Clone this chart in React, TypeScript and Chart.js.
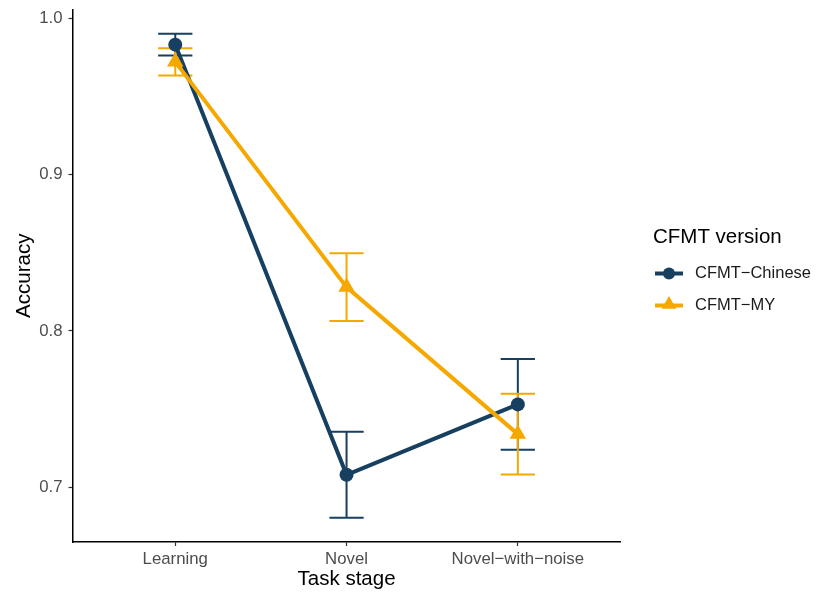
import React, { useEffect, useRef } from "react";
import { Chart, registerables } from "chart.js";
Chart.register(...registerables);

const categories = ["Learning", "Novel", "Novel\u2212with\u2212noise"];
const seriesNames = ["CFMT\u2212Chinese", "CFMT\u2212MY"];
const chineseMean = [0.983, 0.708, 0.753];
const chineseSE = [0.007, 0.0275, 0.029];
const myMean = [0.972, 0.828, 0.734];
const mySE = [0.0087, 0.0217, 0.0258];
const yTicks = [0.7, 0.8, 0.9, 1.0];
const legendTitle = "CFMT version";
const xTitle = "Task stage";
const yTitle = "Accuracy";

const COLORS = ["#173F5F", "#F5A800"];
const POINT_STYLES = ["circle", "triangle"];
const POINT_RADII = [7, 9.5];
const LEGEND_RADII = [6, 8.5];
const FONT = "'Liberation Sans', Arial, Helvetica, sans-serif";

const means = [chineseMean, myMean];
const ses = [chineseSE, mySE];

function drawMarker(ctx: CanvasRenderingContext2D, style: string, x: number, y: number, r: number) {
  ctx.beginPath();
  if (style === "circle") {
    ctx.arc(x, y, r, 0, Math.PI * 2);
  } else {
    ctx.moveTo(x, y - r);
    ctx.lineTo(x + r * Math.sin((2 * Math.PI) / 3), y - r * Math.cos((2 * Math.PI) / 3));
    ctx.lineTo(x + r * Math.sin((4 * Math.PI) / 3), y - r * Math.cos((4 * Math.PI) / 3));
    ctx.closePath();
  }
  ctx.fill();
}

export default function App() {
  const ref = useRef<HTMLCanvasElement | null>(null);

  useEffect(() => {
    const canvas = ref.current;
    if (!canvas) return;

    const lows: number[] = [];
    const highs: number[] = [];
    means.forEach((m, s) =>
      m.forEach((v, i) => {
        lows.push(v - ses[s][i]);
        highs.push(v + ses[s][i]);
      })
    );
    const lo = Math.min(...lows);
    const hi = Math.max(...highs);
    const pad = (hi - lo) * 0.05;

    const errorBars = {
      id: "errorBars",
      beforeDatasetsDraw(chart: any) {
        const { ctx, scales } = chart;
        const xs = scales.x;
        const ys = scales.y;
        ctx.save();
        means.forEach((m, s) => {
          ctx.strokeStyle = COLORS[s];
          ctx.lineWidth = 2;
          m.forEach((v, i) => {
            const xc = xs.getPixelForValue(i + 1);
            const x0 = xs.getPixelForValue(i + 1 - 0.1);
            const x1 = xs.getPixelForValue(i + 1 + 0.1);
            const yt = ys.getPixelForValue(v + ses[s][i]);
            const yb = ys.getPixelForValue(v - ses[s][i]);
            ctx.beginPath();
            ctx.moveTo(x0, yt);
            ctx.lineTo(x1, yt);
            ctx.moveTo(xc, yt);
            ctx.lineTo(xc, yb);
            ctx.moveTo(x0, yb);
            ctx.lineTo(x1, yb);
            ctx.stroke();
          });
        });
        ctx.restore();
      },
    };

    const legendPlugin = {
      id: "customLegend",
      afterDraw(chart: any) {
        const { ctx } = chart;
        ctx.save();
        ctx.fillStyle = "#000";
        ctx.font = `20.5px ${FONT}`;
        ctx.textBaseline = "middle";
        ctx.textAlign = "left";
        ctx.fillText(legendTitle, 653, 237);
        seriesNames.forEach((name, s) => {
          const y = 273.5 + s * 32;
          ctx.strokeStyle = COLORS[s];
          ctx.lineWidth = 4;
          ctx.beginPath();
          ctx.moveTo(655, y);
          ctx.lineTo(683, y);
          ctx.stroke();
          ctx.fillStyle = COLORS[s];
          drawMarker(ctx, POINT_STYLES[s], 669, s === 1 ? y - 1 : y, LEGEND_RADII[s]);
          ctx.fillStyle = "#1a1a1a";
          ctx.font = `16.5px ${FONT}`;
          ctx.fillText(name, 695, y);
        });
        ctx.restore();
      },
    };

    const chart = new Chart(canvas, {
      type: "line",
      data: {
        datasets: seriesNames.map((name, s) => ({
          label: name,
          data: means[s].map((v, i) => ({ x: i + 1, y: v })),
          borderColor: COLORS[s],
          backgroundColor: COLORS[s],
          borderWidth: 4,
          pointStyle: POINT_STYLES[s] as any,
          pointRadius: POINT_RADII[s],
          pointBorderWidth: 0,
          pointBackgroundColor: COLORS[s],
          tension: 0,
          order: seriesNames.length - s,
          clip: false as any,
        })),
      },
      options: {
        animation: false,
        responsive: false,
        devicePixelRatio: 1,
        events: [],
        layout: { padding: { top: 6.7, right: 198.4, left: 0, bottom: 0 } },
        plugins: { legend: { display: false }, tooltip: { enabled: false } },
        scales: {
          x: {
            type: "linear",
            min: 0.4,
            max: 3.6,
            afterBuildTicks(scale: any) {
              scale.ticks = categories.map((_, i) => ({ value: i + 1 }));
            },
            afterFit(scale: any) {
              scale.height = 56;
              scale.paddingLeft = 0;
              scale.paddingRight = 0;
            },
            ticks: {
              autoSkip: false,
              maxRotation: 0,
              padding: 3,
              color: "#4D4D4D",
              font: { family: FONT, size: 16.8 },
              callback: (v: any) => categories[Math.round(Number(v)) - 1] ?? "",
            },
            grid: {
              display: true,
              drawOnChartArea: false,
              drawTicks: true,
              tickLength: 4,
              tickColor: "#333333",
              tickWidth: 1.2,
            },
            border: { display: true, color: "#000", width: 1.5 },
            title: {
              display: true,
              text: xTitle,
              color: "#000",
              font: { family: FONT, size: 20.5 },
              padding: { top: 0, bottom: 6.2 },
            },
          },
          y: {
            type: "linear",
            min: lo - pad,
            max: hi + pad,
            afterBuildTicks(scale: any) {
              scale.ticks = yTicks.map((v) => ({ value: v }));
            },
            afterFit(scale: any) {
              scale.width = 72.5;
              scale.paddingTop = 0;
              scale.paddingBottom = 0;
            },
            ticks: {
              padding: 6,
              color: "#4D4D4D",
              font: { family: FONT, size: 16.8 },
              callback: (v: any) => Number(v).toFixed(1),
            },
            grid: {
              display: true,
              drawOnChartArea: false,
              drawTicks: true,
              tickLength: 4,
              tickColor: "#333333",
              tickWidth: 1.2,
            },
            border: { display: true, color: "#000", width: 1.5 },
            title: {
              display: true,
              text: yTitle,
              color: "#000",
              font: { family: FONT, size: 20.5 },
              padding: { top: 11.7, bottom: 0 },
            },
          },
        },
      },
      plugins: [errorBars, legendPlugin],
    });

    return () => chart.destroy();
  }, []);

  return (
    <div style={{ position: "fixed", left: 0, top: 0, width: 819, height: 598, background: "#fff" }}>
      <canvas ref={ref} width={819} height={598} style={{ width: 819, height: 598, display: "block" }} />
    </div>
  );
}
